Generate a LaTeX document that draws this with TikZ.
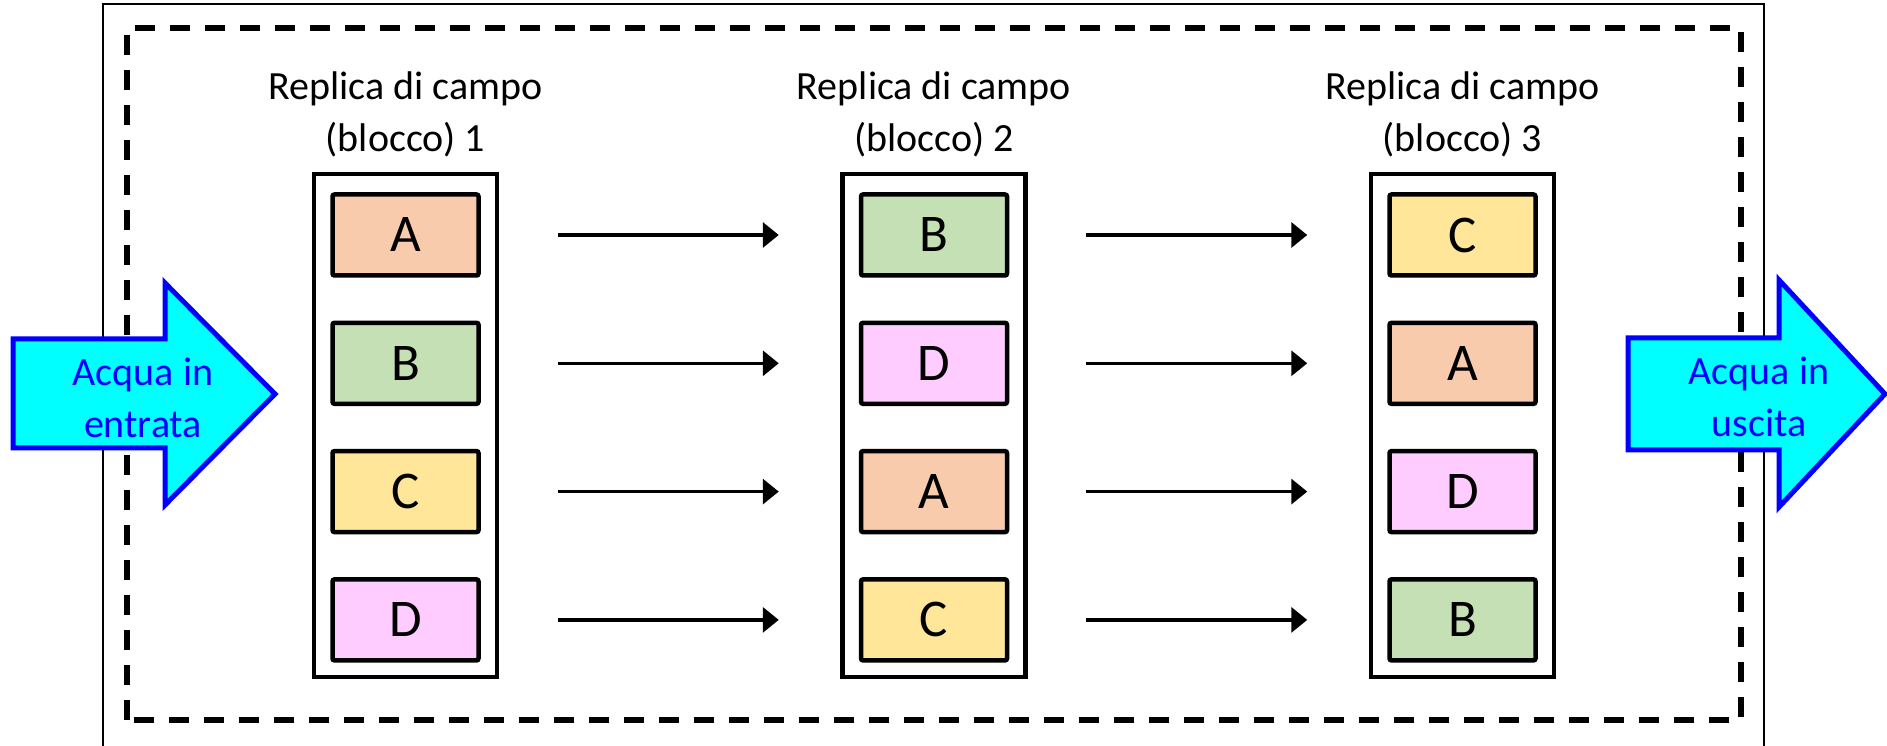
\documentclass[tikz,border=0pt]{standalone}
\usepackage{fontspec}
\setmainfont{Carlito}
\usepackage{xcolor}
\usepackage{tikz}
\usetikzlibrary{positioning, arrows.meta}

\definecolor{colA}{RGB}{248,203,173}
\definecolor{colB}{RGB}{197,224,180}
\definecolor{colC}{RGB}{255,230,153}
\definecolor{colD}{RGB}{255,204,255}
\definecolor{acqua}{RGB}{0,255,255}
\definecolor{bordo}{RGB}{0,0,255}

\begin{document}
\begin{tikzpicture}[x=1pt, y=1pt, node distance=128.3pt, on grid,
        parcella/.style={draw, line width=4.5pt, rounded corners=2pt, minimum width=146pt, minimum height=81pt, inner sep=0pt, font=\fontsize{53}{64}\selectfont},
        blocco/.style={draw, line width=4.5pt, minimum width=183pt, minimum height=503pt, inner sep=0pt},
        titolo/.style={align=center, font=\fontsize{40}{52}\selectfont},
        freccia/.style={-{Triangle[length=16pt, width=25pt]}, line width=3.5pt, shorten <=77pt, shorten >=80pt},
        grossa/.style={fill=acqua, draw=bordo, line width=5pt, line join=miter},
        testo/.style={align=center, text=bordo, font=\fontsize{40}{52}\selectfont}]
        \useasboundingbox (0,0) rectangle (1887,745);

        % Cadres
        \draw[line width=2pt] (103,-5) -- (103,741) -- (1764,741) -- (1764,-5);
        \draw[line width=5.5pt, dash pattern=on 20pt off 15pt] (127,25) rectangle (1741,717);

        % Nœuds
        \node[parcella, fill=colA] (b1r1) at (405.5,510) {A};
        \node[parcella, fill=colB] (b1r2) [below=of b1r1] {B};
        \node[parcella, fill=colC] (b1r3) [below=of b1r2] {C};
        \node[parcella, fill=colD] (b1r4) [below=of b1r3] {D};

        \node[parcella, fill=colB] (b2r1) [right=528.5pt of b1r1] {B};
        \node[parcella, fill=colD] (b2r2) [below=of b2r1] {D};
        \node[parcella, fill=colA] (b2r3) [below=of b2r2] {A};
        \node[parcella, fill=colC] (b2r4) [below=of b2r3] {C};

        \node[parcella, fill=colC] (b3r1) [right=528.5pt of b2r1] {C};
        \node[parcella, fill=colA] (b3r2) [below=of b3r1] {A};
        \node[parcella, fill=colD] (b3r3) [below=of b3r2] {D};
        \node[parcella, fill=colB] (b3r4) [below=of b3r3] {B};

        \node[blocco] (f1) [below=190.5pt of b1r1] {};
        \node[blocco] (f2) [below=190.5pt of b2r1] {};
        \node[blocco] (f3) [below=190.5pt of b3r1] {};

        \node[titolo] (t1) [above=311.5pt of f1] {Replica di campo\\(blocco) 1};
        \node[titolo] (t2) [above=311.5pt of f2] {Replica di campo\\(blocco) 2};
        \node[titolo] (t3) [above=311.5pt of f3] {Replica di campo\\(blocco) 3};

        % Flèches
        \path[freccia]
            (b1r1) edge (b2r1)
            (b1r2) edge (b2r2)
            (b1r3) edge (b2r3)
            (b1r4) edge (b2r4)
            (b2r1) edge (b3r1)
            (b2r2) edge (b3r2)
            (b2r3) edge (b3r3)
            (b2r4) edge (b3r4);

        % Acqua
        \draw[grossa] (13,406) -- (165,406) -- (165,462) -- (275,351) -- (165,240) -- (165,297) -- (13,297) -- cycle;
        \node[testo] (entrata) at (143,347) {Acqua in\\entrata};
        \draw[grossa] (1628,407) -- (1779,407) -- (1779,465) -- (1885,351) -- (1779,238) -- (1779,295) -- (1628,295) -- cycle;
        \node[testo] (uscita) at (1759,348) {Acqua in\\uscita};
    \end{tikzpicture}
\end{document}
